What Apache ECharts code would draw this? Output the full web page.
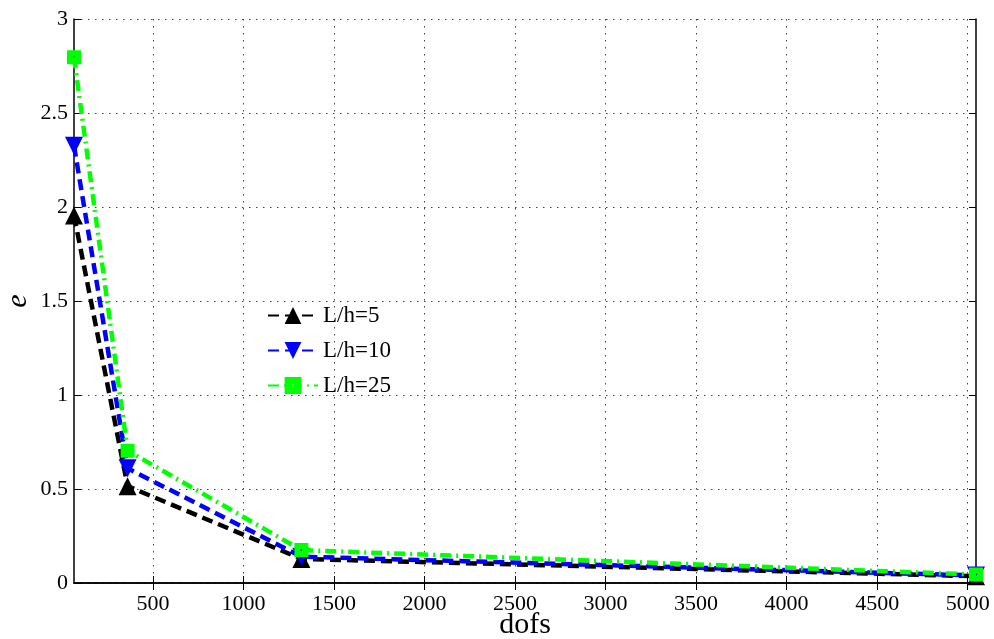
<!DOCTYPE html>
<html>
<head>
<meta charset="utf-8">
<script src="https://cdn.jsdelivr.net/npm/echarts@6/dist/echarts.min.js"></script>
<style>
  html, body { margin: 0; padding: 0; background: #fff; }
  #chart { width: 994px; height: 639px; }
</style>
</head>
<body>
<div id="chart"></div>
<script>
// values
const dofs = [64, 360, 1320, 5046];
const eL5 = [1.955, 0.515, 0.128, 0.036];
const eL10 = [2.326, 0.61, 0.14, 0.04];
const eL25 = [2.796, 0.704, 0.175, 0.045];
const xTicks = [500, 1000, 1500, 2000, 2500, 3000, 3500, 4000, 4500, 5000];
const names = ["L/h=5", "L/h=10", "L/h=25"];

const serif = "'Liberation Serif', 'Times New Roman', serif";
const pairs = (ys) => dofs.map((x, i) => [x, ys[i]]);

const chart = echarts.init(document.getElementById("chart"));

const gridLine = { show: true, lineStyle: { color: "#444", width: 1, type: [1.5, 5.5] } };

chart.setOption({
  animation: false,
  backgroundColor: "#fff",
  grid: { left: 74, right: 18, top: 19, bottom: 56, containLabel: false, outerBoundsMode: "none" },
  legend: {
    orient: "vertical",
    left: 262,
    top: 299,
    itemWidth: 50,
    itemHeight: 21,
    itemGap: 12,
    textStyle: { fontFamily: serif, fontSize: 23, color: "#000" },
    data: names
  },
  xAxis: [
    {
      type: "value",
      min: 64,
      max: 5046,
      position: "bottom",
      name: "dofs",
      nameLocation: "middle",
      nameGap: 42,
      nameMoveOverlap: false,
      nameTextStyle: { fontFamily: serif, fontSize: 30, color: "#000", verticalAlign: "middle" },
      axisLine: { lineStyle: { color: "#000", width: 1.5 } },
      axisTick: { inside: true, length: 7, customValues: xTicks, lineStyle: { color: "#000" } },
      axisLabel: {
        customValues: xTicks,
        formatter: (v) => String(v),
        fontFamily: serif, fontSize: 22, color: "#000", margin: 10
      },
      splitLine: gridLine
    },
    {
      type: "value",
      min: 64,
      max: 5046,
      position: "top",
      axisLine: { show: true, lineStyle: { color: "#000", width: 1.5 } },
      axisTick: { inside: true, length: 7, customValues: xTicks, lineStyle: { color: "#000" } },
      axisLabel: { show: false },
      splitLine: { show: false }
    }
  ],
  yAxis: [
    {
      type: "value",
      min: 0,
      max: 3,
      interval: 0.5,
      position: "left",
      name: "e",
      nameLocation: "middle",
      nameGap: 56,
      nameRotate: 90,
      nameMoveOverlap: false,
      nameTextStyle: { fontFamily: serif, fontSize: 30, fontStyle: "italic", color: "#000", verticalAlign: "middle" },
      axisLine: { show: true, lineStyle: { color: "#000", width: 1.5 } },
      axisTick: { show: true, inside: true, length: 7, lineStyle: { color: "#000" } },
      axisLabel: { fontFamily: serif, fontSize: 22, color: "#000", margin: 6 },
      splitLine: gridLine
    },
    {
      type: "value",
      min: 0,
      max: 3,
      interval: 0.5,
      position: "right",
      axisLine: { show: true, lineStyle: { color: "#000", width: 1.5 } },
      axisTick: { show: true, inside: true, length: 7, lineStyle: { color: "#000" } },
      axisLabel: { show: false },
      splitLine: { show: false }
    }
  ],
  series: [
    {
      name: names[0],
      type: "line",
      data: pairs(eL5),
      symbol: "triangle",
      symbolSize: 18,
      itemStyle: { color: "#000" },
      lineStyle: { color: "#000", width: 4.5, type: [11, 6] },
      z: 2
    },
    {
      name: names[1],
      type: "line",
      data: pairs(eL10),
      symbol: "triangle",
      symbolRotate: 180,
      symbolSize: 18,
      itemStyle: { color: "#0000ff" },
      lineStyle: { color: "#0000ff", width: 4.5, type: [11, 6] },
      z: 3
    },
    {
      name: names[2],
      type: "line",
      data: pairs(eL25),
      symbol: "path://M0,0H10V10H0Z M4.4,4.4V5.6H5.6V4.4Z",
      symbolSize: 14,
      itemStyle: { color: "#00ff00" },
      lineStyle: { color: "#00ff00", width: 4.5, type: [11, 5, 2, 5] },
      z: 4
    }
  ]
});
</script>
</body>
</html>
